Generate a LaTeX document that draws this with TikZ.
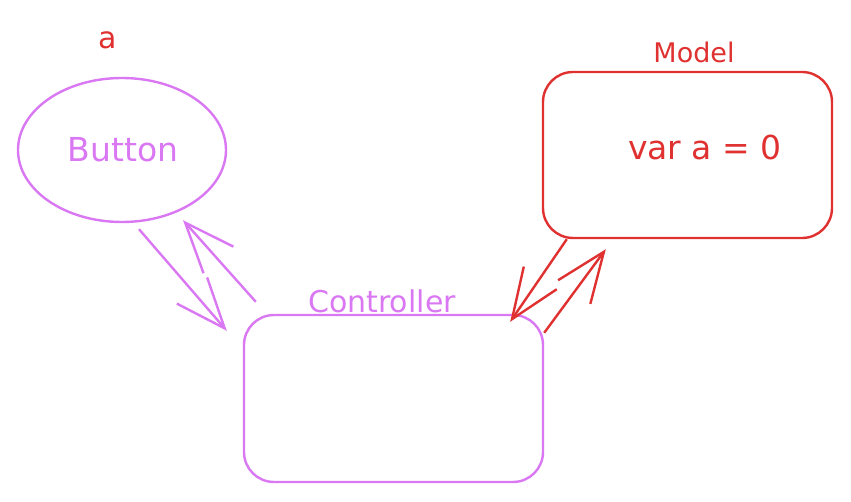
\documentclass[tikz,border=0pt]{standalone}
\usepackage{fontspec}
\setmainfont{DejaVu Sans}
\usepackage{tikz}
\usetikzlibrary{arrows.meta,shapes.geometric}
\definecolor{violet}{HTML}{DA77F2}
\definecolor{redish}{HTML}{E03131}
\begin{document}
\begin{tikzpicture}[y=-1pt,x=1pt,
	box/.style={draw,rounded corners=30pt,line width=2.4pt,minimum width=299pt,minimum height=167pt,inner sep=0pt},
	txt/.style={font=\fontsize{#1}{#1}\selectfont,inner sep=0pt},
	arr/.style={line width=2.4pt,-{Straight Barb[length=50pt,width=40pt,line width=2.4pt]}}]
	\useasboundingbox (0,0) rectangle (851,502);

	\node[draw=violet,ellipse,line width=2.4pt,minimum width=208pt,minimum height=144pt,inner sep=0pt] (button) at (122,150) {};
	\node[txt=33,text=violet] (buttontext) at (123,150) {Button};
	\node[txt=30,text=redish] (alabel) at (108,40) {a};

	\node[box,draw=redish,minimum width=289pt,minimum height=166pt] (model) at (687.5,155) {};
	\node[txt=33,text=redish] (modeltext) at (705,147) {var a = 0};
	\node[txt=27,text=redish] (modellabel) at (694,52) {Model};

	\node[box,draw=violet] (ctrl) at (393.5,398.5) {};
	\node[txt=30,text=violet] (ctrllabel) at (382,301) {Controller};

	% button <-> controller
	\draw[arr,violet] ([xshift=17pt,yshift=-6pt]button.south) -- ([xshift=-16pt,yshift=-17pt]ctrl.north west);
	\draw[arr,violet] ([xshift=13pt,yshift=12pt]ctrl.north west) -- ([xshift=61pt,yshift=3pt]button.south);

	% model <-> controller
	\draw[arr,redish] ([xshift=25pt]model.south west) -- ([xshift=-34pt,yshift=-8pt]ctrl.north east);
	\draw[arr,redish] ([yshift=-19pt]ctrl.north east) -- ([xshift=64pt,yshift=-10pt]model.south west);
\end{tikzpicture}
\end{document}
